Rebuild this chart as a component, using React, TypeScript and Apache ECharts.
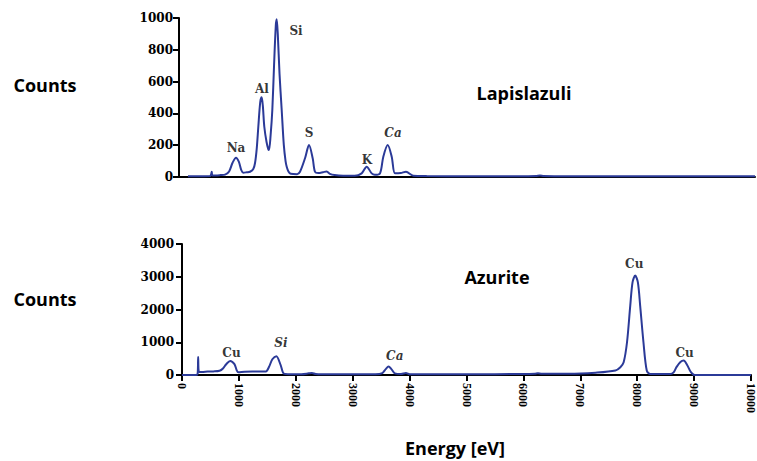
import React, { useEffect, useRef } from "react";
import * as echarts from "echarts";

// Lapislazuli spectrum: [energy eV, counts]
const lapisSpectrum: [number, number][] = [
  [156, 4], [400, 5], [540, 6], [560, 20], [568, 33], [580, 10], [640, 10], [720, 12],
  [800, 15], [870, 35], [930, 90], [990, 121], [1040, 95], [1080, 45], [1117, 27],
  [1180, 30], [1233, 33], [1290, 50], [1320, 88], [1350, 180], [1377, 316], [1410, 470],
  [1435, 501], [1455, 450], [1481, 316], [1520, 220], [1550, 175], [1563, 170],
  [1590, 260], [1620, 421], [1650, 700], [1680, 950], [1696, 992], [1715, 900],
  [1745, 650], [1783, 421], [1820, 200], [1850, 100], [1870, 65], [1900, 35], [1940, 20],
  [2050, 18], [2101, 33], [2188, 118], [2257, 201], [2321, 118], [2361, 33], [2420, 25],
  [2500, 30], [2564, 35], [2620, 20], [2700, 12], [2850, 8], [3050, 8], [3171, 23],
  [3258, 65], [3345, 23], [3400, 14], [3490, 23], [3547, 128], [3623, 201], [3693, 128],
  [3750, 23], [3850, 25], [3941, 33], [4068, 8], [4300, 6], [5000, 5], [6000, 5],
  [6200, 6], [6267, 9], [6330, 6], [6600, 5], [8000, 5], [10000, 5],
];

// Azurite spectrum: [energy eV, counts]
const azuriteSpectrum: [number, number][] = [
  [0, 0], [250, 0], [275, 40], [284, 550], [296, 100], [350, 90], [450, 105], [550, 110],
  [660, 130], [720, 200], [777, 330], [847, 430], [922, 330], [960, 150], [990, 81],
  [1100, 100], [1300, 105], [1473, 110], [1530, 250], [1588, 480], [1658, 574],
  [1734, 300], [1791, 40], [1900, 25], [2100, 25], [2230, 50], [2284, 60], [2350, 30],
  [2600, 20], [3000, 20], [3400, 25], [3520, 60], [3580, 180], [3630, 260], [3680, 180],
  [3740, 50], [3850, 30], [3936, 60], [4000, 25], [5000, 25], [6000, 30], [6200, 40],
  [6255, 55], [6320, 35], [6800, 35], [7270, 70], [7617, 137], [7704, 238], [7762, 390],
  [7821, 1000], [7878, 2120], [7918, 2830], [7965, 3040], [8012, 2830], [8052, 2120],
  [8110, 1000], [8168, 137], [8230, 30], [8580, 30], [8640, 80], [8690, 240], [8760, 400],
  [8817, 442], [8880, 300], [8940, 100], [9009, 0], [10000, 0],
];

// Peak annotations: [energy, counts, label, italic]
const lapisPeaks: [number, number, string, boolean][] = [
  [990, 182, "Na", false],
  [1441, 553, "Al", false],
  [2031, 918, "Si", false],
  [2257, 277, "S", false],
  [3264, 107, "K", false],
  [3715, 277, "Ca", true],
];
const azuritePeaks: [number, number, string, boolean][] = [
  [870, 687, "Cu", false],
  [1739, 962, "Si", true],
  [3739, 595, "Ca", true],
  [7948, 3404, "Cu", false],
  [8835, 687, "Cu", false],
];

const lapisYTicks = { min: 0, max: 1000, interval: 200 };
const azuriteYTicks = { min: 0, max: 4000, interval: 1000 };
const energyTicks = { min: 0, max: 10000, interval: 1000 };

const LINE = "#2b3a98";
const SERIF_WIDE = "'DejaVu Serif', serif";
const SERIF = "'Liberation Serif', 'Times New Roman', serif";
const SANS = "'Open Sans', sans-serif";

function peakData(p: [number, number, string, boolean][]) {
  return p.map(([x, y, n, it]) => ({
    value: [x, y],
    name: n,
    label: { fontStyle: it ? "italic" : "normal" },
  }));
}

const plain = (v: number) => String(v);

export default function App() {
  const ref = useRef<HTMLDivElement>(null);
  useEffect(() => {
    if (!ref.current) return;
    const chart = echarts.init(ref.current, null, { renderer: "svg" });
    const axisLine = { show: true, lineStyle: { color: "#000", width: 2 } };
    const tick = { show: true, inside: false, length: 6, lineStyle: { color: "#000", width: 2 } };
    const yLabel = {
      fontFamily: SERIF_WIDE,
      fontWeight: "bold" as const,
      fontSize: 12,
      color: "#000",
      margin: 6,
      formatter: plain,
    };
    const labelSeries = (xi: number, data: any[]) => ({
      type: "scatter",
      xAxisIndex: xi,
      yAxisIndex: xi,
      symbolSize: 0,
      silent: true,
      data,
      label: {
        show: true,
        position: "inside",
        formatter: (p: any) => p.name,
        fontFamily: SERIF_WIDE,
        fontWeight: "bold",
        fontSize: 12,
        color: "#000",
      },
    });
    const textEl = (x: number, y: number, text: string) => ({
      type: "text",
      x,
      y,
      style: {
        text,
        font: `bold 18px ${SANS}`,
        fill: "#000",
        textAlign: "center",
        textVerticalAlign: "middle",
      },
    });
    chart.setOption({
      animation: false,
      backgroundColor: "#fff",
      grid: [
        { left: 179, right: 2, top: 18, height: 159 },
        { left: 182, right: 0, top: 244, height: 131 },
      ],
      xAxis: [
        {
          type: "value",
          gridIndex: 0,
          ...energyTicks,
          axisLine,
          axisTick: { show: false },
          axisLabel: { show: false },
          splitLine: { show: false },
        },
        {
          type: "value",
          gridIndex: 1,
          ...energyTicks,
          axisLine,
          axisTick: tick,
          splitLine: { show: false },
          axisLabel: {
            rotate: -90,
            fontFamily: SERIF,
            fontWeight: "bold",
            fontSize: 12,
            color: "#000",
            margin: 8,
            showMaxLabel: true,
            showMinLabel: true,
            formatter: plain,
          },
        },
      ],
      yAxis: [
        {
          type: "value",
          gridIndex: 0,
          ...lapisYTicks,
          axisLine,
          axisTick: tick,
          splitLine: { show: false },
          axisLabel: yLabel,
        },
        {
          type: "value",
          gridIndex: 1,
          ...azuriteYTicks,
          axisLine,
          axisTick: tick,
          splitLine: { show: false },
          axisLabel: { ...yLabel, margin: 8 },
        },
      ],
      series: [
        {
          type: "line",
          xAxisIndex: 0,
          yAxisIndex: 0,
          data: lapisSpectrum,
          showSymbol: false,
          smooth: 0.3,
          lineStyle: { color: LINE, width: 2 },
          z: 3,
        },
        {
          type: "line",
          xAxisIndex: 1,
          yAxisIndex: 1,
          data: azuriteSpectrum,
          showSymbol: false,
          smooth: 0.3,
          lineStyle: { color: LINE, width: 2 },
          z: 3,
        },
        labelSeries(0, peakData(lapisPeaks)),
        labelSeries(1, peakData(azuritePeaks)),
      ],
      graphic: [
        textEl(45, 85, "Counts"),
        textEl(45, 299, "Counts"),
        textEl(524, 93, "Lapislazuli"),
        textEl(497, 277, "Azurite"),
        textEl(455, 448, "Energy [eV]"),
      ],
    });
    return () => chart.dispose();
  }, []);
  return (
    <div
      ref={ref}
      style={{ position: "fixed", left: 0, top: 0, width: 757, height: 461, background: "#fff" }}
    />
  );
}
